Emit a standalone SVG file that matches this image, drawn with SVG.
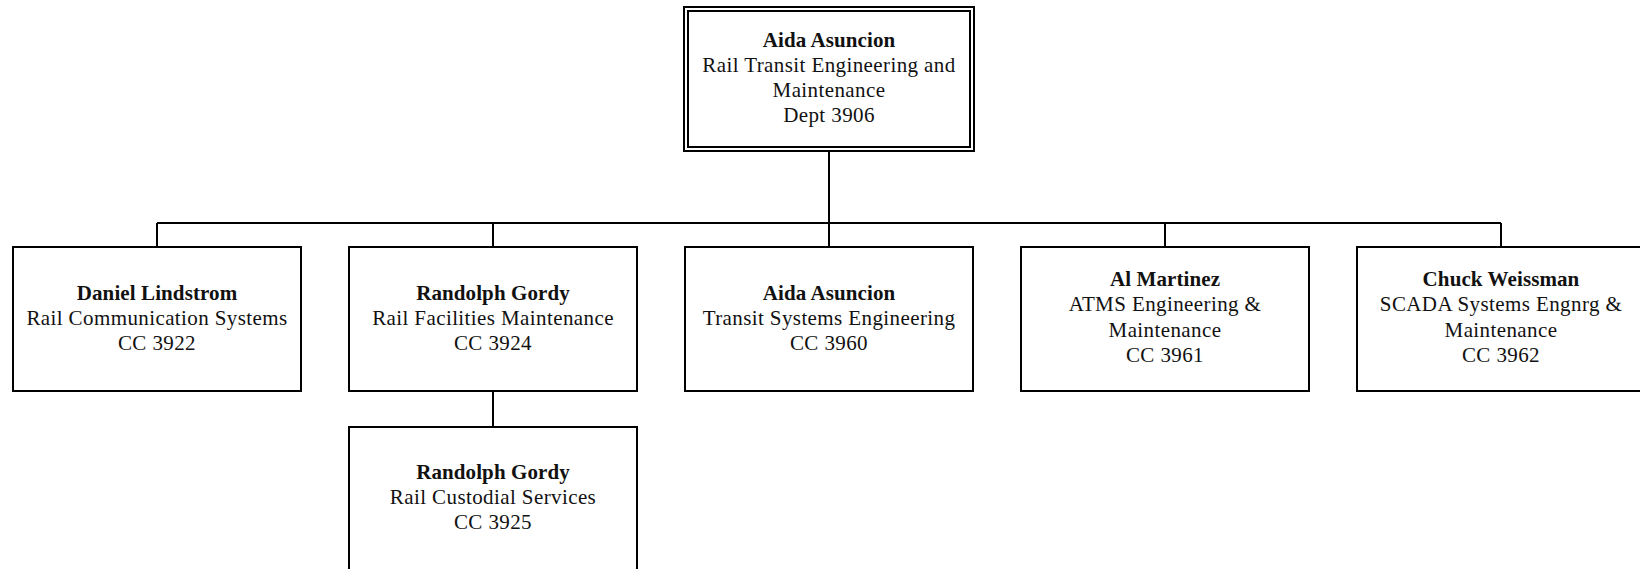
<svg xmlns="http://www.w3.org/2000/svg" width="1640" height="569" viewBox="0 0 1640 569">
<style>
.box{fill:#fff;stroke:#000;stroke-width:2}
.conn{fill:none;stroke:#000;stroke-width:2}
text{font-family:"Liberation Serif","Times New Roman",serif;font-size:21px;fill:#111;text-anchor:middle;letter-spacing:0.4px}
.name{font-weight:bold;letter-spacing:0.1px}
</style>
<rect width="1640" height="569" fill="#fff"/>
<g id="connectors">
<path class="conn" d="M829 151V223M157 223H1501M157 223V247M493 223V247M829 223V247M1165 223V247M1501 223V247M493 391V427"/>
</g>
<g id="n3906">
<rect class="box" x="684" y="7" width="290" height="144"/>
<rect class="box" x="688" y="11" width="282" height="136"/>
<text x="829" y="47" class="name">Aida Asuncion</text>
<text x="829" y="72">Rail Transit Engineering and</text>
<text x="829" y="97">Maintenance</text>
<text x="829" y="122">Dept 3906</text>
</g>
<g id="n3922">
<rect class="box" x="13" y="247" width="288" height="144"/>
<text x="157" y="300" class="name">Daniel Lindstrom</text>
<text x="157" y="325">Rail Communication Systems</text>
<text x="157" y="350">CC 3922</text>
</g>
<g id="n3924">
<rect class="box" x="349" y="247" width="288" height="144"/>
<text x="493" y="300" class="name">Randolph Gordy</text>
<text x="493" y="325">Rail Facilities Maintenance</text>
<text x="493" y="350">CC 3924</text>
</g>
<g id="n3960">
<rect class="box" x="685" y="247" width="288" height="144"/>
<text x="829" y="300" class="name">Aida Asuncion</text>
<text x="829" y="325">Transit Systems Engineering</text>
<text x="829" y="350">CC 3960</text>
</g>
<g id="n3961">
<rect class="box" x="1021" y="247" width="288" height="144"/>
<text x="1165" y="286" class="name">Al Martinez</text>
<text x="1165" y="311">ATMS Engineering &amp;</text>
<text x="1165" y="337">Maintenance</text>
<text x="1165" y="362">CC 3961</text>
</g>
<g id="n3962">
<rect class="box" x="1357" y="247" width="288" height="144"/>
<text x="1501" y="286" class="name">Chuck Weissman</text>
<text x="1501" y="311">SCADA Systems Engnrg &amp;</text>
<text x="1501" y="337">Maintenance</text>
<text x="1501" y="362">CC 3962</text>
</g>
<g id="n3925">
<rect class="box" x="349" y="427" width="288" height="144"/>
<text x="493" y="479" class="name">Randolph Gordy</text>
<text x="493" y="504">Rail Custodial Services</text>
<text x="493" y="529">CC 3925</text>
</g>
</svg>
